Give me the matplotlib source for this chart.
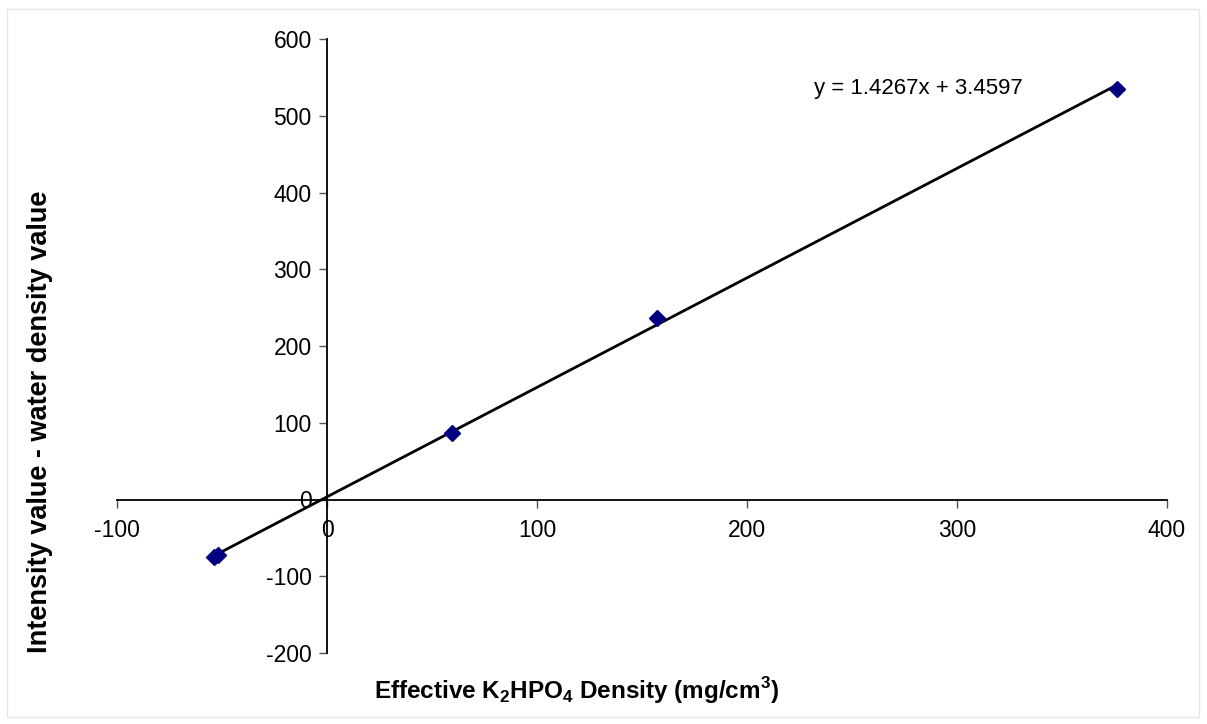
import numpy as np
import matplotlib
matplotlib.use("Agg")
import matplotlib.pyplot as plt
from matplotlib.patches import Rectangle

plt.rcParams["font.family"] = ["Liberation Sans", "DejaVu Sans"]
plt.rcParams["axes.unicode_minus"] = False
plt.rcParams["mathtext.fontset"] = "custom"
plt.rcParams["mathtext.bf"] = "Liberation Sans:bold"
plt.rcParams["mathtext.rm"] = "Liberation Sans"

# Data
density = [-54, -52, 59.5, 157, 376]          # effective K2HPO4 density (mg/cm3)
intensity = [-75, -72, 86, 236, 535]          # intensity - water density value
slope = 1.4267
intercept = 3.4597
x_ticks = [-100, 0, 100, 200, 300, 400]
y_ticks = [-200, -100, 0, 100, 200, 300, 400, 500, 600]

fig = plt.figure(figsize=(12.07, 7.24), dpi=100)
ax = fig.add_axes([117 / 1207, 71 / 724, 1050 / 1207, 614 / 724])

# trendline over the data range
xl = np.array([min(density), max(density)])
ax.plot(xl, slope * xl + intercept, color="black", lw=2, zorder=2)
ax.plot(density, intensity, linestyle="none", marker="D", color="#000080",
        markersize=8, zorder=3)

ax.text(232, 535, f"y = {slope}x + {intercept}", fontsize=16, va="center", ha="left")

ax.set_xlim(-100, 400)
ax.set_ylim(-200, 600)
ax.set_xticks(x_ticks)
ax.set_yticks(y_ticks)
ax.spines["left"].set_position(("data", 0))
ax.spines["bottom"].set_position(("data", 0))
ax.spines["top"].set_visible(False)
ax.spines["right"].set_visible(False)
for s in ("left", "bottom"):
    ax.spines[s].set_linewidth(1.3)
ax.tick_params(axis="both", direction="out", length=6, width=1, color="#555555",
               labelsize=16.5)
ax.tick_params(axis="x", pad=8)
ax.tick_params(axis="y", pad=5)
ax.patch.set_visible(False)

fig.text(577 / 1207, 1 - 691 / 724,
         "Effective K$_\\mathbf{2}$HPO$_\\mathbf{4}$ Density (mg/cm$^\\mathbf{3}$)",
         fontsize=17.5, fontweight="bold", ha="center", va="center")
fig.text(40 / 1207, 1 - 422 / 724, "Intensity value - water density value",
         fontsize=19.5, fontweight="bold", ha="center", va="center", rotation=90)

# thin outer chart border
fig.patches.append(Rectangle((7 / 1207, 7 / 724), 1192 / 1207, 708 / 724,
                             transform=fig.transFigure, fill=False,
                             edgecolor="#e6e6e6", lw=1))

fig.savefig("out.png", dpi=100)
